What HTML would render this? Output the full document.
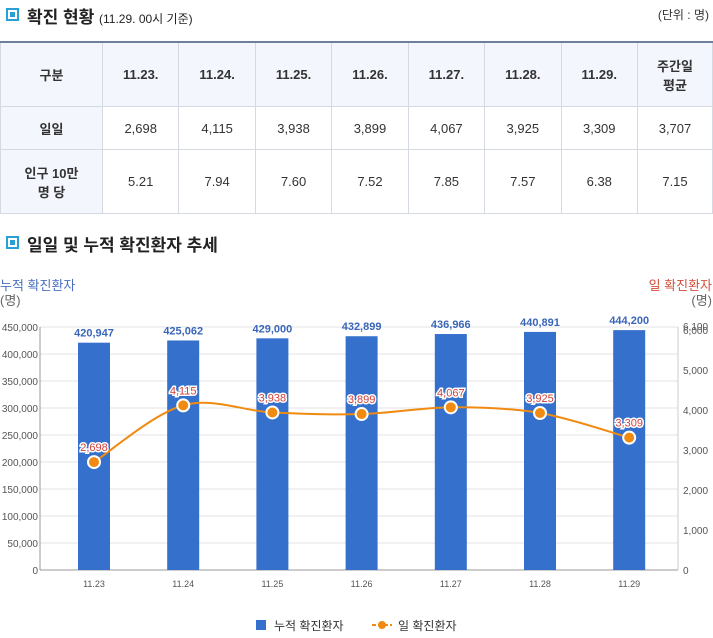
<!DOCTYPE html>
<html><head><meta charset="utf-8">
<style>
body{margin:0;width:713px;height:638px;background:#fff;font-family:"Liberation Sans","Noto Sans CJK KR",sans-serif;overflow:hidden;position:relative}
.h{position:absolute;left:6px;font-size:17px;color:#222;font-weight:bold}
.h .sq{display:inline-block;width:9px;height:9px;border:2px solid #2a9fd6;margin-right:8px;vertical-align:2px;box-shadow:inset 0 0 0 2px #fff;background:#2a9fd6}
table{position:absolute;left:0;top:41px;width:713px;border-collapse:collapse;font-size:13px;color:#333;border-top:2px solid #6d7f99}
td{border:1px solid #d4d9e2;text-align:center}
tr.hd td{background:#f3f6fc;font-weight:bold;height:61px}
td.f{font-weight:bold;background:#f3f6fc}
</style></head><body>
<div class="h" style="top:3px"><span class="sq"></span>확진 현황 <span style="font-size:12px;font-weight:normal">(11.29. 00시 기준)</span></div>
<div style="position:absolute;right:4px;top:6px;font-size:12px;color:#333">(단위 : 명)</div>
<table>
<tr class="hd"><td style="width:99px">구분</td><td>11.23.</td><td>11.24.</td><td>11.25.</td><td>11.26.</td><td>11.27.</td><td>11.28.</td><td>11.29.</td><td style="width:72px">주간일<br>평균</td></tr>
<tr style="height:43px"><td class="f">일일</td><td>2,698</td><td>4,115</td><td>3,938</td><td>3,899</td><td>4,067</td><td>3,925</td><td>3,309</td><td>3,707</td></tr>
<tr style="height:64px"><td class="f">인구 10만<br>명 당</td><td>5.21</td><td>7.94</td><td>7.60</td><td>7.52</td><td>7.85</td><td>7.57</td><td>6.38</td><td>7.15</td></tr>
</table>
<div class="h" style="top:231px"><span class="sq"></span>일일 및 누적 확진환자 추세</div>
<svg id="c" width="713" height="638" style="position:absolute;left:0;top:0"></svg>
<script>
const cats=["11.23","11.24","11.25","11.26","11.27","11.28","11.29"];
const cumulative=[420947,425062,429000,432899,436966,440891,444200];
const daily=[2698,4115,3938,3899,4067,3925,3309];
const leftTicks=[0,50000,100000,150000,200000,250000,300000,350000,400000,450000];
const rightTicks=[0,1000,2000,3000,4000,5000,6000,6100];
const svg=document.getElementById('c');const NS='http://www.w3.org/2000/svg';
function el(t,a,txt){const e=document.createElementNS(NS,t);for(const k in a)e.setAttribute(k,a[k]);if(txt!=null)e.textContent=txt;svg.appendChild(e);return e;}
const y0=570,yTop=327;
const yL=v=>y0-(v/450000)*(y0-yTop);
const yR=v=>y0-(v/6100)*(y0-326);
const xC=i=>94+89.2*i;
const fmt=v=>v.toLocaleString('en-US');
leftTicks.forEach(v=>{const g=el('line',{x1:40,x2:678,y1:yL(v),y2:yL(v),stroke:v?'#e3e3e3':'#999'});
const t=el('text',{x:38,y:yL(v)+4,'text-anchor':'end','font-size':10,fill:'#555'},fmt(v));});
rightTicks.forEach(v=>{const t=el('text',{x:683,y:yR(v)+4,'font-size':10,fill:'#555'},fmt(v));});
el('line',{x1:40,x2:40,y1:yTop,y2:y0,stroke:'#999'});
el('line',{x1:678,x2:678,y1:yTop,y2:y0,stroke:'#ccc'});
let t=el('text',{x:0,y:290,'font-size':13,fill:'#4a6fc0'},'누적 확진환자');
el('text',{x:0,y:305,'font-size':13,fill:'#666'},'(명)');
t=el('text',{x:712,y:290,'font-size':13,fill:'#d0503a','text-anchor':'end'},'일 확진환자');
el('text',{x:712,y:305,'font-size':13,fill:'#666','text-anchor':'end'},'(명)');
cats.forEach((c,i)=>{
const b=el('rect',{x:xC(i)-16,y:yL(cumulative[i]),width:32,height:y0-yL(cumulative[i]),fill:'#3470cc'});
const l=el('text',{x:xC(i),y:yL(cumulative[i])-6,'text-anchor':'middle','font-size':11,fill:'#3a66b8','font-weight':'600'},fmt(cumulative[i]));
const x=el('text',{x:xC(i),y:587,'text-anchor':'middle','font-size':9,fill:'#555'},c);
});
const pts=daily.map((v,i)=>[xC(i),yR(v)]);
let d='M'+pts[0];
for(let i=0;i<pts.length-1;i++){const p0=pts[i-1]||pts[i],p1=pts[i],p2=pts[i+1],p3=pts[i+2]||p2;
d+=` C${p1[0]+(p2[0]-p0[0])/6},${p1[1]+(p2[1]-p0[1])/6} ${p2[0]-(p3[0]-p1[0])/6},${p2[1]-(p3[1]-p1[1])/6} ${p2[0]},${p2[1]}`;}
const ln=el('path',{d:d,fill:'none',stroke:'#f08a10','stroke-width':2});
pts.forEach((p,i)=>{const c=el('circle',{cx:p[0],cy:p[1],r:6,fill:'#f08a10',stroke:'#fff','stroke-width':2});
const l=el('text',{x:p[0],y:p[1]-11,'text-anchor':'middle','font-size':11,fill:'#d0403a',stroke:'#fff','stroke-width':3,'paint-order':'stroke'},fmt(daily[i]));});
const lg1=el('rect',{x:256,y:620,width:10,height:10,fill:'#3470cc'});
el('text',{x:274,y:630,'font-size':12,fill:'#333'},'누적 확진환자');
el('line',{x1:372,x2:392,y1:625,y2:625,stroke:'#f08a10','stroke-width':2,'stroke-dasharray':'4,2'});
const lg2=el('circle',{cx:382,cy:625,r:4,fill:'#f08a10'});
el('text',{x:398,y:630,'font-size':12,fill:'#333'},'일 확진환자');
</script>
</body></html>
